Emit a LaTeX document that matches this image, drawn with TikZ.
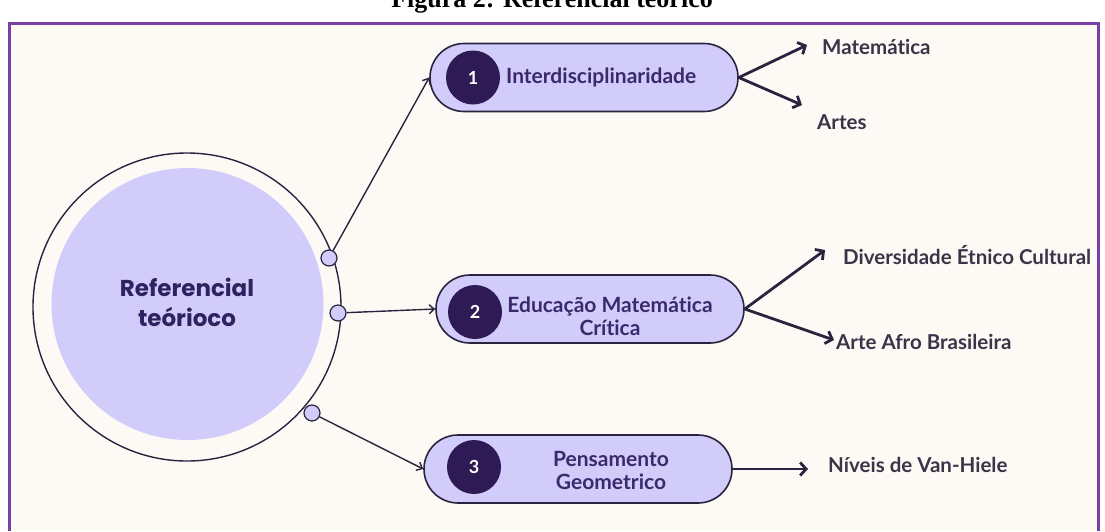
\documentclass[tikz,border=0pt]{standalone}
\usepackage{fontspec}
\setmainfont{Liberation Serif}
\newfontfamily\lab{Lato}[Ligatures={NoCommon}]
\newfontfamily\pop{Poppins}
\usetikzlibrary{arrows.meta}
\definecolor{cream}{HTML}{FDFAF5}
\definecolor{lav}{HTML}{D2CCFA}
\definecolor{dk}{HTML}{2A2340}
\definecolor{numc}{HTML}{2E1A55}
\definecolor{ptext}{HTML}{3B2A6B}
\definecolor{ctext}{HTML}{2E2260}
\definecolor{ltext}{HTML}{3A3448}
\definecolor{framec}{HTML}{7B3FA9}
\begin{document}
\begin{tikzpicture}[x=1pt,y=-1pt,
 pill/.style={draw=dk, fill=lav, line width=1.6pt, rounded corners=34pt, minimum width=308pt, minimum height=68pt, inner sep=0pt},
 numcirc/.style={circle, fill=numc, minimum size=54pt, inner sep=0pt, text=white, font=\lab\bfseries\fontsize{18}{18}\selectfont},
 ptxt/.style={text=ptext, font=\lab\bfseries\fontsize{21}{23}\selectfont, align=center, inner sep=0pt},
 ltxt/.style={text=ltext, font=\lab\bfseries\fontsize{20.5}{22}\selectfont, anchor=west, inner sep=0pt},
 dot/.style={circle, draw=dk, fill=lav, line width=1.2pt, minimum size=16pt, inner sep=0pt},
 conL/.style={draw=dk, line width=1.4pt, -{Straight Barb[length=5pt,width=9pt]}},
 conR/.style={draw=dk, line width=2.8pt, -{Straight Barb[length=6pt,width=13pt]}},
]
\useasboundingbox (0,0) rectangle (1105,531);
\fill[white] (0,0) rectangle (1105,531);
\fill[cream] (9,23) rectangle (1098,531);
\draw[framec, line width=3pt] (9,531) -- (9,23) -- (1098,23) -- (1098,531);
\begin{scope}
\clip (0,0) rectangle (1105,531);
\node[font=\bfseries\fontsize{26}{26}\selectfont, anchor=base, inner sep=0pt] (title) at (552,7) {Figura 2: Referencial teórico};
\end{scope}

% central circle
\node[circle, draw=dk, line width=1.4pt, fill=cream, minimum size=308pt, inner sep=0pt] (ring) at (187,307) {};
\node[circle, fill=lav, minimum size=272pt, inner sep=0pt] (core) at (187.5,304) {};
\node[text=ctext, font=\pop\bfseries\fontsize{23}{30}\selectfont, align=center, inner sep=0pt] (reft) at (187,302) {Referencial\\teórioco};

\node[dot] (d1) at (329,258) {};
\node[dot] (d2) at (338,313) {};
\node[dot] (d3) at (312,413) {};

% pills
\node[pill] (p1) at (584,77.5) {};
\node[pill] (p2) at (590,309) {};
\node[pill] (p3) at (578,469) {};
\node[numcirc] (n1) at (473,77.5) {1};
\node[numcirc] (n2) at (475,312) {2};
\node[numcirc] (n3) at (474,467) {3};
\node[ptxt, anchor=west] (t1) at (506,77) {Interdisciplinaridade};
\node[ptxt] (t2) at (610,316) {Educação Matemática\\Crítica};
\node[ptxt] (t3) at (611,470) {Pensamento\\Geometrico};

% labels
\node[ltxt] (m1) at (822,47) {Matemática};
\node[ltxt] (a1) at (817,122) {Artes};
\node[ltxt] (dv) at (843,255) {Diversidade Étnico Cultural};
\node[ltxt] (af) at (836,342) {Arte Afro Brasileira};
\node[ltxt] (nv) at (828,465) {Níveis de Van-Hiele};

\coordinate (c1a) at (807,45);
\coordinate (c1b) at (802,105);
\coordinate (c2a) at (825,250);
\coordinate (c2b) at (834,340);
\coordinate (c3a) at (808,469);

% connectors
\draw[conL] (d1) -- (p1.west);
\draw[conL] (d2) -- (p2.west);
\draw[conL] (d3) -- (p3.west);
\draw[conR] (p1.east) -- (c1a);
\draw[conR] (p1.east) -- (c1b);
\draw[conR] (p2.east) -- (c2a);
\draw[conR] (p2.east) -- (c2b);
\draw[conR] (p3.east) -- (c3a);
\end{tikzpicture}
\end{document}
